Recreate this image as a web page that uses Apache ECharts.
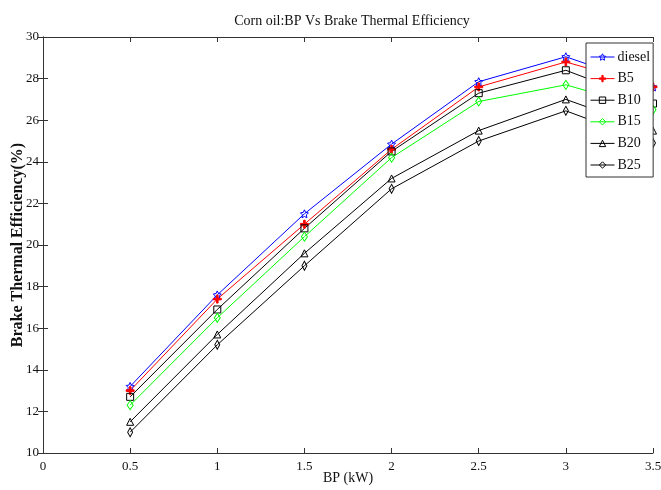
<!DOCTYPE html>
<html>
<head>
<meta charset="utf-8">
<script src="https://cdn.jsdelivr.net/npm/echarts@6/dist/echarts.min.js"></script>
<style>
  html, body { margin: 0; padding: 0; background: #fff; }
  #main { width: 661px; height: 490px; }
</style>
</head>
<body>
<div id="main"></div>
<script>
// BP values (kW)
var bp = [0.5, 1, 1.5, 2, 2.5, 3, 3.5]

// brake thermal efficiency (%)
var diesel = [13.2, 17.6, 21.5, 24.85, 27.85, 29.05, 27.6]
var b5 = [13.0, 17.4, 21.0, 24.6, 27.6, 28.8, 27.6]
var b10 = [12.7, 16.9, 20.8, 24.5, 27.3, 28.4, 26.8]
var b15 = [12.3, 16.5, 20.4, 24.2, 26.9, 27.7, 26.5]
var b20 = [11.5, 15.7, 19.6, 23.2, 25.5, 27.0, 25.5]
var b25 = [11.0, 15.2, 19.0, 22.7, 25.0, 26.45, 24.9]

var names = ['diesel', 'B5', 'B10', 'B15', 'B20', 'B25']
var values = [diesel, b5, b10, b15, b20, b25]
var colors = ['#0000ff', '#ff0000', '#000000', '#00ff00', '#000000', '#000000']

var font = '"Liberation Serif", "Times New Roman", serif'

var starPath = 'path://M0,-10 L2.9,-4 9.5,-3.1 4.7,1.5 5.9,8.1 0,5 -5.9,8.1 -4.7,1.5 -9.5,-3.1 -2.9,-4 Z'
var plusPath = 'path://M-1,-5 H1 V-1 H5 V1 H1 V5 H-1 V1 H-5 V-1 H-1 Z'
var symbols = [
  { symbol: starPath, size: 8, fill: 'transparent' },
  { symbol: plusPath, size: 8, fill: '#ff0000' },
  { symbol: 'rect', size: 7, fill: 'transparent' },
  { symbol: 'diamond', size: [6, 9], fill: 'transparent' },
  { symbol: 'triangle', size: 7, fill: 'transparent' },
  { symbol: 'diamond', size: [5, 9], fill: 'transparent' }
]

var seriesList = names.map(function (name, i) {
  return {
    name: name,
    type: 'line',
    data: bp.map(function (x, j) { return [x, values[i][j]] }),
    symbol: symbols[i].symbol,
    symbolSize: symbols[i].size,
    showAllSymbol: true,
    clip: true,
    lineStyle: { color: colors[i], width: 1 },
    itemStyle: { color: symbols[i].fill, borderColor: colors[i], borderWidth: 1 },
    z: 2
  }
})

var axisLine = { show: true, lineStyle: { color: '#333', width: 1 } }
var axisTick = { show: true, inside: true, length: 5, lineStyle: { color: '#333' } }

var chart = echarts.init(document.getElementById('main'))
chart.setOption({
  animation: false,
  backgroundColor: '#fff',
  title: {
    text: 'Corn oil:BP Vs Brake Thermal Efficiency',
    left: 347,
    textAlign: 'center',
    top: 9,
    textStyle: { fontFamily: font, fontSize: 14, fontWeight: 'normal', color: '#111' }
  },
  legend: {
    data: names,
    orient: 'vertical',
    left: 586,
    top: 43,
    backgroundColor: '#fff',
    borderColor: '#333',
    borderWidth: 1,
    borderRadius: 0,
    padding: [7, 3, 5, 4],
    itemWidth: 24,
    itemHeight: 8,
    itemGap: 7.6,
    lineStyle: { width: 1 },
    itemStyle: { borderWidth: 1 },
    textStyle: { fontFamily: font, fontSize: 14, lineHeight: 14, color: '#111', padding: [0, 0, 0, -2] }
  },
  grid: { left: 43, right: 8, top: 37, bottom: 37, containLabel: false, outerBoundsMode: 'none' },
  xAxis: [
    {
      type: 'value', min: 0, max: 3.5, interval: 0.5,
      name: 'BP (kW)', nameLocation: 'middle', nameGap: 18, nameMoveOverlap: false,
      nameTextStyle: { fontFamily: font, fontSize: 14, color: '#111' },
      axisLine: axisLine, axisTick: axisTick,
      axisLabel: { fontFamily: font, fontSize: 13, color: '#111', margin: 7 },
      splitLine: { show: false }
    },
    {
      type: 'value', position: 'top', min: 0, max: 3.5, interval: 0.5,
      axisLine: axisLine, axisTick: axisTick,
      axisLabel: { show: false }, splitLine: { show: false }
    }
  ],
  yAxis: [
    {
      type: 'value', min: 10, max: 30, interval: 2,
      name: 'Brake Thermal Efficiency(%)', nameLocation: 'middle', nameGap: 17, nameMoveOverlap: false,
      nameTextStyle: { fontFamily: font, fontSize: 16, fontWeight: 'bold', color: '#111' },
      axisLine: axisLine, axisTick: axisTick,
      axisLabel: { fontFamily: font, fontSize: 13, color: '#111', margin: 4 },
      splitLine: { show: false }
    },
    {
      type: 'value', position: 'right', min: 10, max: 30, interval: 2,
      axisLine: axisLine, axisTick: axisTick,
      axisLabel: { show: false }, splitLine: { show: false }
    }
  ],
  series: seriesList
})
</script>
</body>
</html>
